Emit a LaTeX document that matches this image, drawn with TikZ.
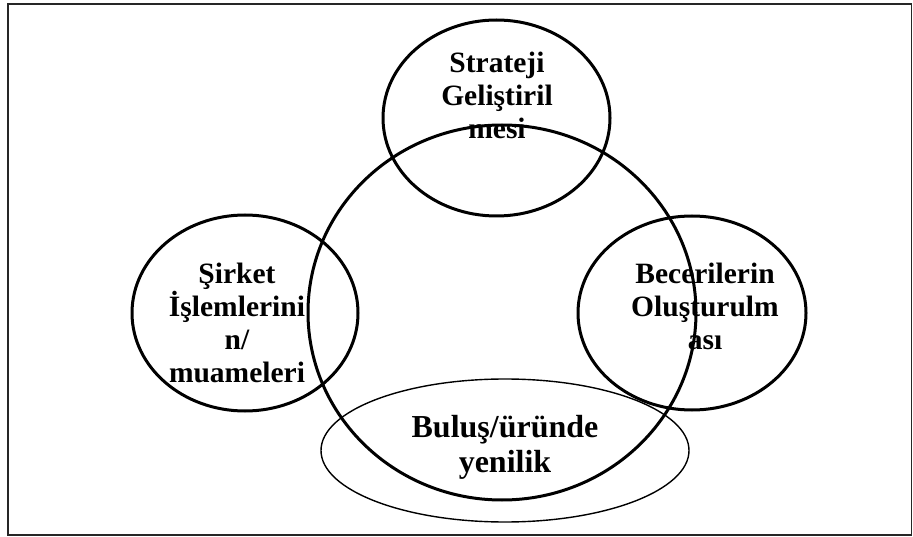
\documentclass[tikz,border=0pt]{standalone}
\usepackage{fontspec}
\setmainfont{Liberation Serif}
\begin{document}
\begin{tikzpicture}[x=1pt,y=-1pt,
  lbl/.style={font=\bfseries\fontsize{29.5}{33}\selectfont, align=center, inner sep=0pt, anchor=base},
  lblbig/.style={font=\bfseries\fontsize{32}{35}\selectfont, align=center, inner sep=0pt, anchor=base},
  ring/.style={line width=3pt},
  thinring/.style={line width=1.4pt},
  frame/.style={line width=1.5pt, draw=black!85}]
  \useasboundingbox (0,0) rectangle (913,537);
  \draw[frame] (8,4) rectangle (911.5,535);

  % labels (anchored at the baseline of their last line)
  \node[lbl] (strat) at (497,139) {Strateji\\Geliştiril\\mesi};
  \node[lbl] (sirket) at (237,382) {Şirket\\İşlemlerini\\n/\\muameleri};
  \node[lbl] (beceri) at (705,349) {Becerilerin\\Oluşturulm\\ası};
  \node[lblbig] (bulus) at (505,472) {Buluş/üründe\\yenilik};

  % circles
  \draw[thinring] (505,450.5) ellipse [x radius=184, y radius=71.5];
  \draw[ring] (502,312.5) ellipse [x radius=194, y radius=187.5];
  \draw[ring] (496.5,118) ellipse [x radius=113.5, y radius=98];
  \draw[ring] (245,313) ellipse [x radius=113, y radius=98];
  \draw[ring] (692,313) ellipse [x radius=114, y radius=97];
\end{tikzpicture}
\end{document}
